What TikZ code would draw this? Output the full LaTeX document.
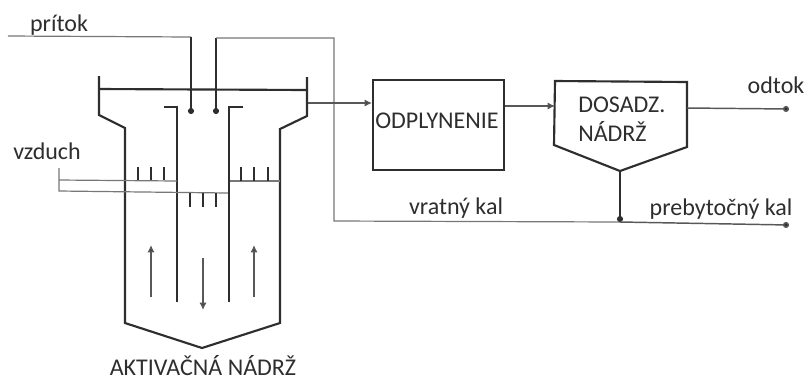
\documentclass[tikz,border=0pt]{standalone}
\usepackage{fontspec}
\setmainfont{Carlito}
\usetikzlibrary{arrows.meta}
\definecolor{ink}{HTML}{2E2E2E}
\definecolor{thin}{HTML}{777777}
\tikzset{
  heavy/.style={draw=ink,line width=1.6pt,line join=miter},
  mid/.style={draw=ink!80,line width=1.1pt},
  light/.style={draw=thin,line width=0.9pt},
  dot/.style={-{Circle[length=4.5pt,width=4.5pt,fill=ink]}},
  tri/.style={-{Latex[length=5.5pt,width=5.5pt,fill=ink]}},
  lab/.style={inner sep=0pt,anchor=base,text=ink,font=\fontsize{18pt}{20pt}\selectfont},
  tick/.style={draw=ink,line width=1.2pt},
}
\begin{document}
\begin{tikzpicture}[x=0.75pt,y=-0.75pt]
\useasboundingbox (0,0) rectangle (806,380);
\fill[white] (0,0) rectangle (806,380);

% named points
\coordinate (inA) at (8,36);
\coordinate (inB) at (191,37);
\coordinate (inC) at (191,114);
\coordinate (retA) at (216,114);
\coordinate (retB) at (216,38);
\coordinate (retC) at (334,38);
\coordinate (retD) at (334,221);
\coordinate (junc) at (620,222);
\coordinate (excess) at (789,225);
\coordinate (tankOut) at (307,103);
\coordinate (effl) at (789,109);

% boxes
\node[draw=ink,line width=1.5pt,minimum width=131*0.75pt,minimum height=90*0.75pt,inner sep=0pt,
  anchor=north west] (odp) at (372,79) {};
\node[lab] (odptext) at (437,128) {ODPLYNENIE};

\draw[heavy,fill=white] (555,81) coordinate (dosTL) -- (687,82) coordinate (dosTR) -- (687,147)
   -- (620,171) coordinate (apex) -- (554,145) -- cycle;
\node[lab,anchor=base west] (dos1) at (578,112) {DOSADZ.};
\node[lab,anchor=base west] (dos2) at (578,141) {NÁDRŽ};

% flows
\draw[light] (inA) -- (inB);
\draw[heavy,line width=1.3pt,dot] (inB) -- (inC);
\draw[heavy,line width=1.3pt,dot] (retB) -- (retA);
\draw[light] (retB) -- (retC) -- (retD) -- (junc);
\draw[mid,tri] (tankOut) -- (372,103);
\draw[mid,tri] (odp.east |- 0,106) -- (555,106);
\draw[mid,dot] (687,108) -- (effl);
\draw[heavy,line width=1.3pt,dot] (apex) -- (junc);
\draw[mid,dot] (junc) -- (excess);

% activation tank
\draw[heavy] (99,76) -- (99,115) -- (125,128) -- (125,323) -- (202,348) -- (280,323)
  -- (280,129) -- (307,116) -- (307,77);
\draw[heavy] (99,89) -- (307,90);
\draw[heavy] (164,107) -- (177,107) -- (177,302);
\draw[heavy] (243,107) -- (229,107) -- (229,302);

% air
\draw[light] (59,168) -- (59,191) -- (228,193);
\draw[light] (59,180) -- (177,181);
\draw[light] (230,181) -- (280,181);
\foreach \x in {138,151,164} \draw[tick] (\x,167) -- (\x,180);
\foreach \x in {241,254,268} \draw[tick] (\x,167) -- (\x,181);
\foreach \x in {190,203,216} \draw[tick] (\x,193) -- (\x,207);

% flow arrows in tank
\draw[mid,line width=1.3pt,tri] (151,297) -- (151,245);
\draw[mid,line width=1.3pt,tri] (254,297) -- (254,245);
\draw[mid,line width=1.3pt,tri] (203,258) -- (203,310);

% labels
\node[lab] (pritok) at (59,31) {prítok};
\node[lab] (vzduch) at (47,159) {vzduch};
\node[lab] (odtok) at (776,93) {odtok};
\node[lab] (vratny) at (456,214) {vratný kal};
\node[lab] (preb) at (721,215) {prebytočný kal};
\node[lab] (akt) at (203,375) {AKTIVAČNÁ NÁDRŽ};
\end{tikzpicture}
\end{document}
